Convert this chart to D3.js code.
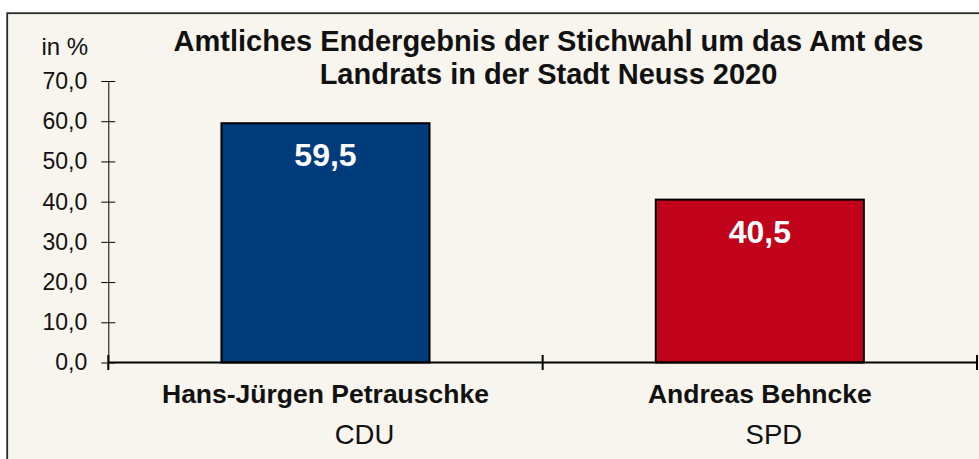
<!DOCTYPE html>
<html>
<head>
<meta charset="utf-8">
<script src="https://cdn.jsdelivr.net/npm/d3@7"></script>
<style>
  html, body { margin: 0; padding: 0; background: #fff; }
  svg { display: block; font-family: Arial, 'Liberation Sans', sans-serif; }
</style>
</head>
<body>
<svg id="chart"></svg>
<script>
// Data
const candidates = ['Hans-Jürgen Petrauschke', 'Andreas Behncke'];
const parties = ['CDU', 'SPD'];
const shares = [59.5, 40.5];
const barColors = ['#003b7c', '#c0031a'];
const yTicks = [0, 10, 20, 30, 40, 50, 60, 70];
const titleLines = ['Amtliches Endergebnis der Stichwahl um das Amt des', 'Landrats in der Stadt Neuss 2020'];

const width = 979, height = 459;
const margin = { top: 81, right: 2, bottom: 96.5, left: 108.3 };

const svg = d3.select('#chart')
  .attr('width', width)
  .attr('height', height);

// Frame
svg.append('rect')
  .attr('x', 7.2).attr('y', 13.2)
  .attr('width', width + 20).attr('height', height + 20)
  .attr('fill', '#f7f5ed')
  .attr('stroke', '#2a2a2a')
  .attr('stroke-width', 1.8);

const de = d3.formatLocale({ decimal: ',', thousands: '.', grouping: [3], currency: ['', ' €'] });
const fmt = de.format('.1f');

const xScale = d3.scaleBand()
  .domain(candidates)
  .range([margin.left, width - margin.right])
  .paddingInner(0.521)
  .paddingOuter(0.2605);

const yScale = d3.scaleLinear()
  .domain([0, 70])
  .range([height - margin.bottom, margin.top]);

// Y axis with crossing ticks
const yAxis = d3.axisLeft(yScale)
  .tickValues(yTicks)
  .tickFormat(fmt)
  .tickSize(7)
  .tickPadding(14)
  .tickSizeOuter(0);

const yAxisG = svg.append('g')
  .attr('transform', `translate(${margin.left},0)`)
  .call(yAxis);
yAxisG.select('.domain').attr('stroke', '#000').attr('stroke-width', 1);
yAxisG.selectAll('.tick line').attr('x1', -7).attr('x2', 7).attr('stroke', '#000');
yAxisG.selectAll('.tick text')
  .attr('font-size', 23)
  .attr('fill', '#111');

svg.append('text')
  .attr('x', 41.5)
  .attr('y', 55)
  .attr('font-size', 24)
  .attr('fill', '#111')
  .text('in %');

// Bars
const y0 = yScale(0);
svg.selectAll('.bar')
  .data(candidates)
  .join('rect')
  .attr('class', 'bar')
  .attr('x', d => xScale(d))
  .attr('width', xScale.bandwidth())
  .attr('y', (d, i) => yScale(shares[i]))
  .attr('height', (d, i) => y0 - yScale(shares[i]))
  .attr('fill', (d, i) => barColors[i])
  .attr('stroke', '#000')
  .attr('stroke-width', 2);

svg.selectAll('.value')
  .data(candidates)
  .join('text')
  .attr('class', 'value')
  .attr('x', d => xScale(d) + xScale.bandwidth() / 2)
  .attr('y', (d, i) => yScale(shares[i]) + 43)
  .attr('text-anchor', 'middle')
  .attr('font-size', 32)
  .attr('font-weight', 'bold')
  .attr('fill', '#fff')
  .text((d, i) => fmt(shares[i]));

// X axis line with crossing ticks at category boundaries
const [xr0, xr1] = xScale.range();
svg.append('line')
  .attr('x1', xr0).attr('x2', xr1)
  .attr('y1', y0).attr('y2', y0)
  .attr('stroke', '#000')
  .attr('stroke-width', 2);

const step = xScale.step();
const bounds = d3.range(candidates.length + 1).map(i => xr0 + i * step);
svg.selectAll('.xtick')
  .data(bounds)
  .join('line')
  .attr('class', 'xtick')
  .attr('x1', d => d).attr('x2', d => d)
  .attr('y1', y0 - 7.5).attr('y2', y0 + 7.5)
  .attr('stroke', '#000')
  .attr('stroke-width', 2);

// Category labels
const partyShift = { CDU: 39, SPD: 14 };
const cats = svg.selectAll('.cat')
  .data(candidates)
  .join('g')
  .attr('class', 'cat')
  .attr('transform', d => `translate(${xScale(d) + xScale.bandwidth() / 2},0)`);

cats.append('text')
  .attr('y', 402.5)
  .attr('text-anchor', 'middle')
  .attr('font-size', 26.5)
  .attr('font-weight', 'bold')
  .attr('fill', '#111')
  .text(d => d);

cats.append('text')
  .attr('x', (d, i) => partyShift[parties[i]])
  .attr('y', 444)
  .attr('text-anchor', 'middle')
  .attr('font-size', 27.5)
  .attr('fill', '#111')
  .text((d, i) => parties[i]);

// Title
svg.append('text')
  .attr('text-anchor', 'middle')
  .attr('font-size', 29)
  .attr('font-weight', 'bold')
  .attr('fill', '#111')
  .selectAll('tspan')
  .data(titleLines)
  .join('tspan')
  .attr('x', 548.5)
  .attr('y', (d, i) => 50.7 + i * 32.8)
  .text(d => d);
</script>
</body>
</html>
